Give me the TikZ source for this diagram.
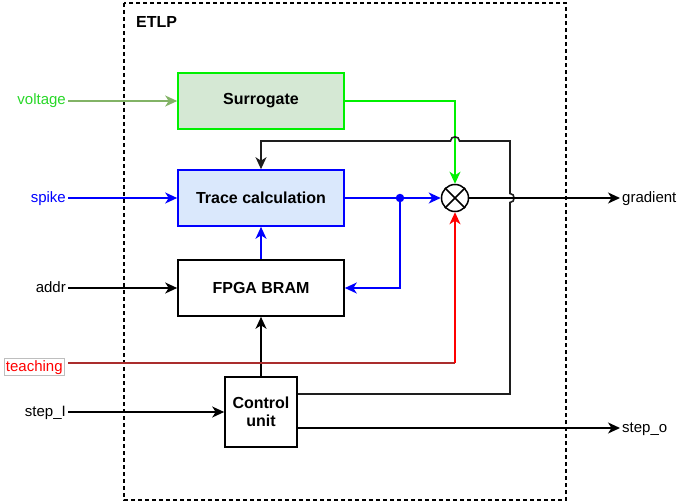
\documentclass[tikz,border=0pt]{standalone}
\usepackage{fontspec}
\setmainfont{Liberation Sans}
\usetikzlibrary{arrows.meta}
\definecolor{surfill}{RGB}{213,232,212}
\definecolor{surline}{RGB}{0,240,0}
\definecolor{voltline}{RGB}{130,179,102}
\definecolor{volttext}{RGB}{40,215,40}
\definecolor{tracefill}{RGB}{218,232,252}
\definecolor{myblue}{RGB}{0,0,255}
\definecolor{myred}{RGB}{255,0,0}
\definecolor{teachline}{RGB}{170,45,45}
\definecolor{labelgray}{RGB}{190,190,190}
\definecolor{linegray}{RGB}{30,30,30}
\tikzset{
  blk/.style={draw, line width=1.6pt, minimum width=166pt, minimum height=56pt, inner sep=0pt, font=\fontsize{16}{19}\selectfont\bfseries},
  lbl/.style={inner sep=2pt, text height=11pt, text depth=3pt, font=\fontsize{15}{18}\selectfont},
  conn/.style={line width=1.6pt, -{Stealth[length=12pt,width=11pt,inset=3.5pt]}},
  wire/.style={line width=1.6pt},
}
\begin{document}
\begin{tikzpicture}[x=1pt,y=-1pt]
\useasboundingbox (0,0) rectangle (678,503);
% ETLP frame
\draw[line width=1.3pt, dash pattern=on 4pt off 3pt] (124,3) rectangle (566,500);
\node[anchor=west, inner sep=0pt, font=\fontsize{16}{19}\selectfont\bfseries] (etlp) at (136,22) {ETLP};
% blocks
\node[blk, fill=surfill, draw=surline] (sur) at (261,101) {Surrogate};
\node[blk, fill=tracefill, draw=myblue] (trace) at (261,198) {Trace calculation};
\node[blk, fill=white] (fpga) at (261,288) {FPGA BRAM};
\node[blk, minimum width=72pt, minimum height=70pt, align=center, font=\fontsize{16}{18.5}\selectfont\bfseries] (ctrl) at (261,412) {Control\\unit};
\node[draw, circle, line width=1.5pt, minimum size=27pt, inner sep=0pt] (mul) at (455,198) {};
\draw[line width=1.5pt] (mul.north east) -- (mul.south west) (mul.north west) -- (mul.south east);
\node[circle, fill=myblue, inner sep=0pt, minimum size=8.5pt] (dot) at (400,198) {};
% left labels
\node[lbl, anchor=east, text=volttext] (volt) at (68,101) {voltage};
\node[lbl, anchor=east, text=myblue] (spike) at (68,198) {spike};
\node[lbl, anchor=east] (addr) at (68,288) {addr};
\node[draw=labelgray, line width=0.7pt, inner sep=1.5pt, text height=11pt, text depth=3pt, anchor=east, text=myred, font=\fontsize{15}{18}\selectfont] (teach) at (64.5,367) {teaching};
\node[lbl, anchor=east] (stepi) at (68,412) {step\_I};
% right labels
\node[lbl, anchor=west] (grad) at (620,198) {gradient};
\node[lbl, anchor=west] (stepo) at (620,428) {step\_o};
% connectors
\draw[conn, draw=voltline, fill=voltline] (volt.east) -- (volt.east -| sur.west);
\draw[conn, draw=myblue, fill=myblue] (spike.east) -- (spike.east -| trace.west);
\draw[conn] (addr.east) -- (addr.east -| fpga.west);
\draw[conn] (stepi.east) -- (stepi.east -| ctrl.west);
\draw[conn, draw=myblue] (fpga.north) -- (trace.south);
\draw[conn] (ctrl.north) -- (fpga.south);
\draw[wire, draw=myblue] (trace.east) -- (dot);
\draw[conn, draw=myblue] (dot) -- (mul.west);
\draw[conn, draw=myblue] (dot) |- (fpga.east);
\draw[conn, draw=surline] (sur.east) -| (mul.north);
\coordinate (tc) at (455,363);
\draw[line width=1.4pt, draw=teachline] ([yshift=4pt,xshift=3.5pt]teach.east) -- (tc);
\draw[conn, draw=myred] (tc) -- (mul.south);
% feedback path with line hops
\draw[conn, draw=linegray] ([yshift=18pt]ctrl.east) -- (510,394) -- (510,202.5)
   .. controls (515.5,202.5) and (515.5,193.5) .. (510,193.5)
   -- (510,141) -- (459.5,141)
   .. controls (459.5,135.5) and (450.5,135.5) .. (450.5,141)
   -- (261,141) -- (trace.north);
\draw[conn] (mul.east) -- (mul.east -| grad.west);
\draw[conn] ([yshift=-16pt]ctrl.east) -- ([yshift=-16pt]ctrl.east -| stepo.west);
\end{tikzpicture}
\end{document}
